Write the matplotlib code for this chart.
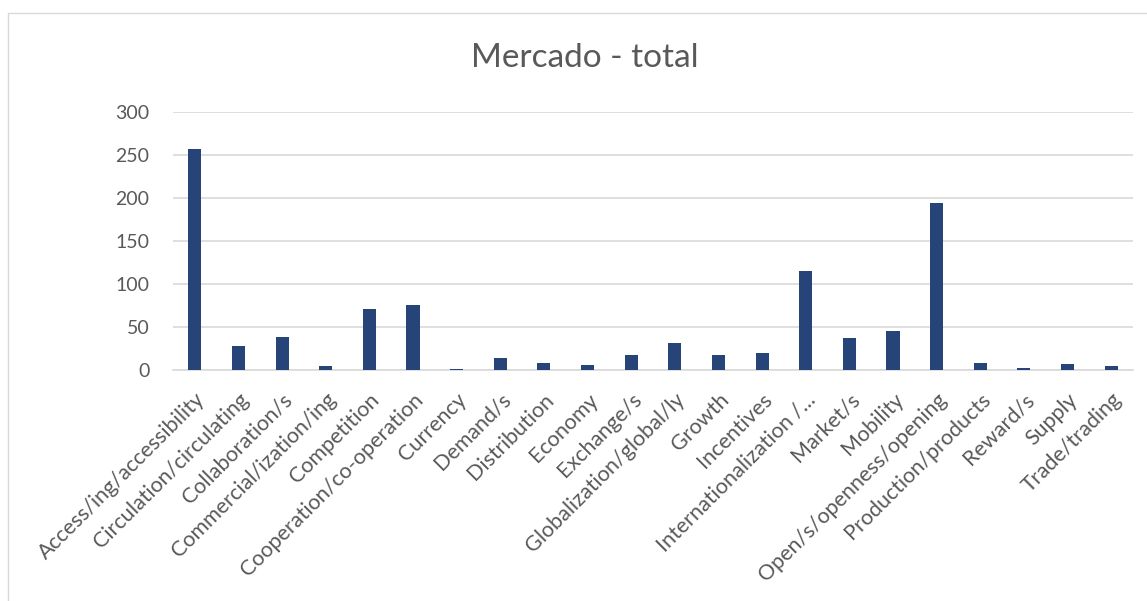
import matplotlib.pyplot as plt
from matplotlib.patches import Rectangle

plt.rcParams['font.family'] = ['Lato', 'DejaVu Sans']

categories = ['Access/ing/accessibility', 'Circulation/circulating', 'Collaboration/s',
              'Commercial/ization/ing', 'Competition', 'Cooperation/co-operation',
              'Currency', 'Demand/s', 'Distribution', 'Economy', 'Exchange/s',
              'Globalization/global/ly', 'Growth', 'Incentives', 'Internationalization /...',
              'Market/s', 'Mobility', 'Open/s/openness/opening', 'Production/products',
              'Reward/s', 'Supply', 'Trade/trading']
values = [257, 28, 38, 5, 71, 76, 1, 14, 8, 6, 17, 31, 18, 20, 115, 37, 45, 194, 8, 2, 7, 5]

text_col = '#595959'
bar_col = '#264478'

fig = plt.figure(figsize=(11.47, 6.01), dpi=100)
ax = fig.add_axes([0.1508, 0.3844, 0.837, 0.4287])

x = list(range(len(categories)))
ax.bar(x, values, width=0.3, color=bar_col, zorder=3)

ax.set_xlim(-0.5, len(categories) - 0.5)
ax.set_ylim(0, 300)
ax.set_yticks([0, 50, 100, 150, 200, 250, 300])
ax.yaxis.grid(True, color='#d9d9d9', linewidth=1.2, zorder=0)
for s in ['top', 'right', 'left']:
    ax.spines[s].set_visible(False)
ax.spines['bottom'].set_color('#d9d9d9')
ax.spines['bottom'].set_linewidth(1.2)
ax.tick_params(axis='y', length=0, colors=text_col, labelsize=14, pad=17)
ax.tick_params(axis='x', length=0, colors=text_col, labelsize=15.5, pad=14)

ax.set_xticks(x)
ax.set_xticklabels(categories, rotation=45, ha='right', va='top', rotation_mode='anchor')

fig.text(0.51, 0.903, 'Mercado - total', ha='center', va='center', fontsize=24, color=text_col)

# chart frame
fig.patches.append(Rectangle((8 / 1147, -0.1), 1.2, 1 - 13 / 601 + 0.1,
                             transform=fig.transFigure, fill=False,
                             edgecolor='#d9d9d9', linewidth=1))

plt.savefig('out.png', dpi=100)
